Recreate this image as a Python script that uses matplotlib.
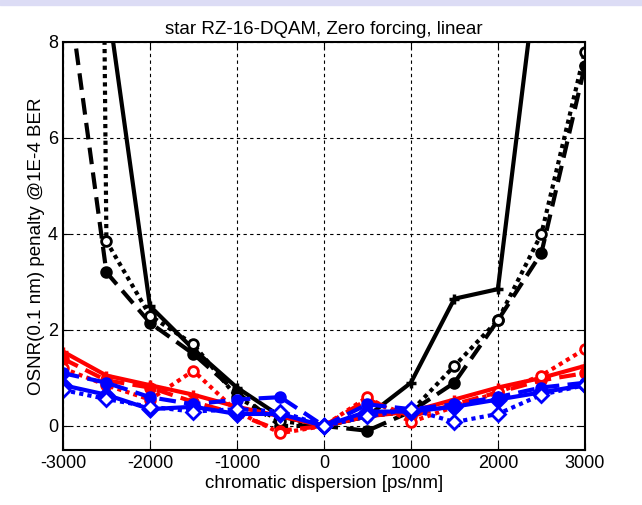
import matplotlib
matplotlib.use("Agg")
import matplotlib.pyplot as plt
import numpy as np

plt.rcParams['font.family'] = ['Liberation Sans', 'DejaVu Sans']
plt.rcParams['axes.unicode_minus'] = False

cd = [-3000, -2500, -2000, -1500, -1000, -500, 0, 500, 1000, 1500, 2000, 2500, 3000]

# black curves
k_solid  = [40, 9.0, 2.5, 1.6, 0.8, 0.2, 0, 0.2, 0.9, 2.65, 2.85, 10.2, 30]
k_dashed = [9.9, 3.2, 2.15, 1.5, 0.7, 0.0, 0, -0.1, 0.3, 0.9, 2.2, 3.6, 7.5]
k_dotted = [100, 3.85, 2.3, 1.7, 0.6, 0.1, 0, 0.2, 0.3, 1.25, 2.2, 4.0, 7.8]
# red curves
r_solid  = [1.55, 1.05, 0.85, 0.65, 0.4, 0.2, 0, 0.2, 0.3, 0.55, 0.8, 1.0, 1.25]
r_dashed = [1.4, 0.95, 0.8, 0.5, 0.25, -0.1, 0, 0.55, 0.2, 0.45, 0.7, 0.95, 1.1]
r_dotted = [1.2, 0.85, 0.55, 1.15, 0.3, -0.15, 0, 0.6, 0.08, 0.4, 0.7, 1.05, 1.6]
# blue curves
b_solid  = [0.85, 0.65, 0.35, 0.4, 0.25, 0.25, 0, 0.3, 0.3, 0.4, 0.55, 0.7, 0.85]
b_dashed = [1.1, 0.9, 0.6, 0.45, 0.55, 0.6, 0, 0.45, 0.35, 0.45, 0.6, 0.8, 0.9]
b_dotted = [0.75, 0.56, 0.4, 0.3, 0.35, 0.3, 0, 0.2, 0.35, 0.08, 0.25, 0.65, 0.85]

fig = plt.figure(figsize=(6.42, 5.05), dpi=100)
fig.patches.append(plt.Rectangle((0, 0.99), 1, 0.01, transform=fig.transFigure,
                                 color='#dcdcf5', zorder=0))
ax = fig.add_axes([0.098, 0.109, 0.813, 0.808])

lw = 3
for col, s, d, o in [('k', k_solid, k_dashed, k_dotted),
                     ('r', r_solid, r_dashed, r_dotted),
                     ('b', b_solid, b_dashed, b_dotted)]:
    m_s = '+' if col != 'b' else 'D'
    ax.plot(cd, s, '-', color=col, lw=lw, marker=m_s, ms=7, mew=2.5)
    ax.plot(cd, d, color=col, lw=lw, dashes=(4, 2), marker='o', ms=7, mew=2)
    m_o = 'o' if col != 'b' else 'D'
    ax.plot(cd, o, color=col, lw=lw, dashes=(1, 1), dash_capstyle='butt',
            marker=m_o, ms=7, mew=2, mfc='white')

ax.set_xlim(-3000, 3000)
ax.set_ylim(-0.5, 8)
ax.set_xticks(range(-3000, 3001, 1000))
ax.set_yticks([0, 2, 4, 6, 8])
ax.grid(True, color='k', linestyle=(0, (3, 3)), linewidth=0.8)
ax.tick_params(direction='in', labelsize=13, length=5, top=True, right=True,
               labeltop=False, labelright=False)
for sp in ax.spines.values():
    sp.set_linewidth(1.5)
ax.set_title('star RZ-16-DQAM, Zero forcing, linear', fontsize=13.5)
ax.set_xlabel('chromatic dispersion [ps/nm]', fontsize=13.5, labelpad=2)
ax.set_ylabel('OSNR(0.1 nm) penalty @1E-4 BER', fontsize=13.5, labelpad=2)

fig.savefig('out.png', dpi=100)
